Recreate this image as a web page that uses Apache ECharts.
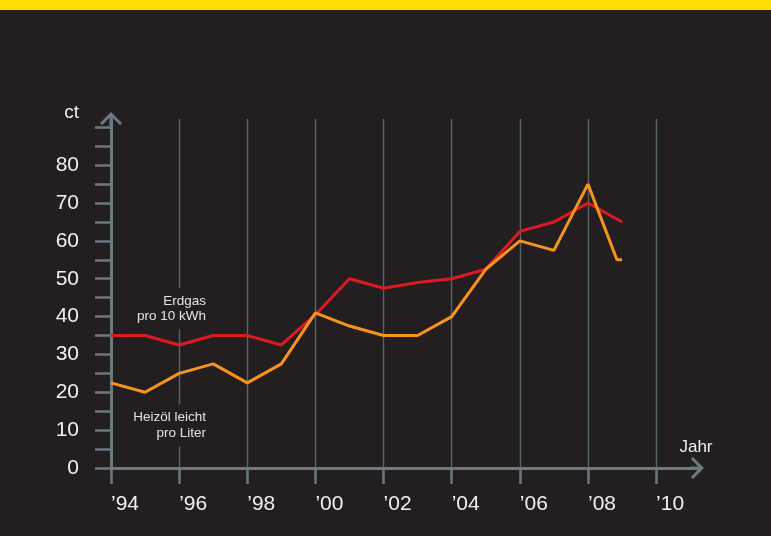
<!DOCTYPE html>
<html>
<head>
<meta charset="utf-8">
<script src="https://cdn.jsdelivr.net/npm/echarts@6/dist/echarts.min.js"></script>
<style>
html,body{margin:0;padding:0;background:#231f20;}
#chart{width:771px;height:536px;}
</style>
</head>
<body>
<div id="chart"></div>
<script>
// ---- data ----
var gasYears = [1994,1995,1996,1997,1998,1999,2000,2001,2002,2003,2004,2005,2006,2007,2008,2009];
var gasValues = [35,35,32.5,35,35,32.5,40.5,50,47.5,49,50,52.5,62.5,65,70,65];
var oilYears = [1994,1995,1996,1997,1998,1999,2000,2001,2002,2003,2004,2005,2006,2007,2008,2008.85,2009];
var oilValues = [22.5,20,25,27.5,22.5,27.5,41,37.5,35,35,40,52.5,60,57.5,75,55,55];
var xTicks = [1994,1996,1998,2000,2002,2004,2006,2008,2010];
var yTicks = [0,5,10,15,20,25,30,35,40,45,50,55,60,65,70,75,80,85,90];
var yLabels = [0,10,20,30,40,50,60,70,80];
var gasLabel = 'Erdgas\npro 10 kWh';
var oilLabel = 'Heizöl leicht\npro Liter';
var yName = 'ct';
var xName = 'Jahr';

function pairs(xs, ys){ return xs.map(function(x,i){ return [x, ys[i]]; }); }

var BG = '#231f20';
var AXIS = '#6c7980';
var GRIDC = '#586369';
var TXT = '#f0f0f0';
var FONT = '"Liberation Sans", Arial, sans-serif';
var arrow = 'path://M11,0 L22,11 L20,13.2 L12.6,5.8 L12.6,14 L9.4,14 L9.4,5.8 L2,13.2 L0,11 Z';

var chart = echarts.init(document.getElementById('chart'), null, {renderer:'canvas'});
chart.setOption({
  backgroundColor: BG,
  animation: false,
  graphic: [{type:'rect', left:0, top:0, shape:{width:771, height:10}, style:{fill:'#ffdd00'}, z:10}],
  grid: {left:111, right:74, top:119, bottom:68, containLabel:false},
  xAxis: {
    type:'value', min:1994, max:2011.2, interval:2,
    name: xName, nameLocation:'end', nameGap:-1,
    nameTextStyle:{color:TXT, fontSize:17, fontFamily:FONT, align:'center', verticalAlign:'bottom', padding:[0,0,12,0]},
    axisLine:{show:true, onZero:false, symbol:['none', arrow], symbolSize:[22,14], lineStyle:{color:AXIS, width:3}},
    axisTick:{show:true, inside:false, length:16, customValues:xTicks, lineStyle:{color:AXIS, width:2.5}},
    axisLabel:{show:true, customValues:xTicks, hideOverlap:false, margin:26, align:'left', color:TXT, fontSize:21, fontFamily:FONT,
      formatter:function(v){ return '\u2019' + String(v).slice(2); }},
    splitLine:{show:true, showMinLine:false, lineStyle:{color:GRIDC, width:1.4}}
  },
  yAxis: {
    type:'value', min:0, max:92.2, interval:5,
    name: yName, nameLocation:'end', nameGap:-3,
    nameTextStyle:{color:TXT, fontSize:19, fontFamily:FONT, align:'right', verticalAlign:'bottom', padding:[0,32,0,0]},
    axisLine:{show:true, onZero:false, symbol:['none', arrow], symbolSize:[22,14], lineStyle:{color:AXIS, width:3}},
    axisTick:{show:true, inside:false, length:16, customValues:yTicks, lineStyle:{color:AXIS, width:2.5}},
    axisLabel:{show:true, customValues:yLabels, hideOverlap:false, margin:32, color:TXT, fontSize:21, fontFamily:FONT,
      formatter:function(v){ return (v % 10 === 0 && v <= 80) ? String(v) : ''; }},
    splitLine:{show:false}
  },
  series: [
    {
      name:'Erdgas', type:'line', data:pairs(gasYears, gasValues), symbol:'none', z:3,
      lineStyle:{color:'#dd1a22', width:3}, itemStyle:{color:'#dd1a22'},
      markPoint:{
        symbol:'circle', symbolSize:0, silent:true,
        data:[{coord:[1996.82, 42.1], value:0}],
        label:{show:true, position:'inside', formatter:gasLabel, align:'right', verticalAlign:'middle',
          color:'#e4e4e4', fontSize:13.5, lineHeight:15.5, fontFamily:FONT, backgroundColor:BG, padding:[5,1,5,8]}
      }
    },
    {
      name:'Heizöl', type:'line', data:pairs(oilYears, oilValues), symbol:'none', z:4,
      lineStyle:{color:'#f7941d', width:3}, itemStyle:{color:'#f7941d'},
      markPoint:{
        symbol:'circle', symbolSize:0, silent:true,
        data:[{coord:[1996.82, 11.2], value:0}],
        label:{show:true, position:'inside', formatter:oilLabel, align:'right', verticalAlign:'middle',
          color:'#e4e4e4', fontSize:13.5, lineHeight:16, fontFamily:FONT, backgroundColor:BG, padding:[5,1,5,8]}
      }
    }
  ]
});
</script>
</body>
</html>
